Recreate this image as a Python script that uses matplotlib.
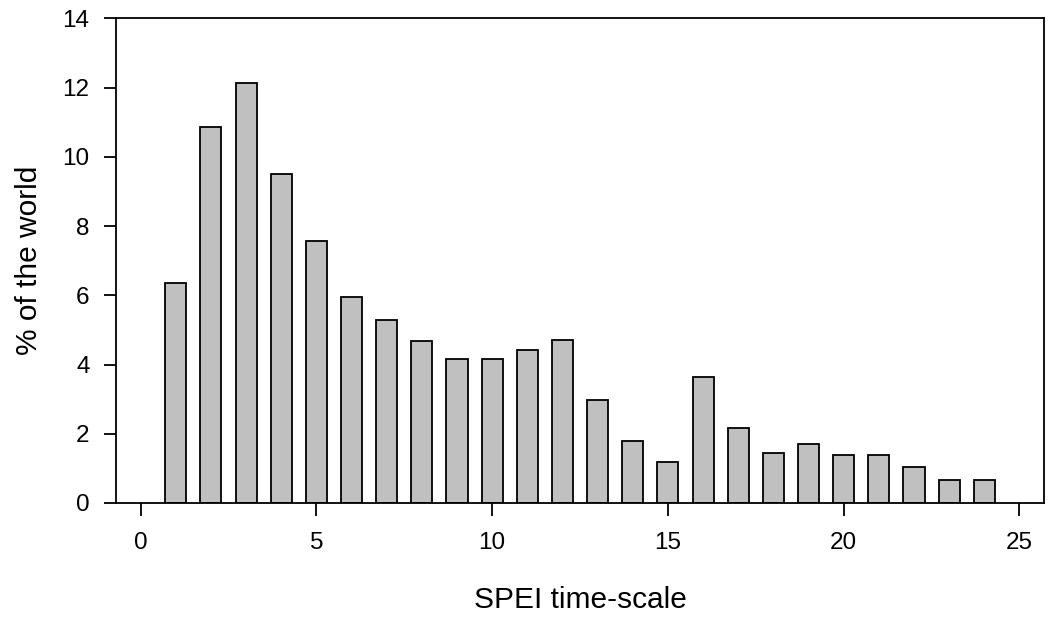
import matplotlib
matplotlib.use('Agg')
import matplotlib.pyplot as plt

plt.rcParams['font.family'] = ['Liberation Sans', 'DejaVu Sans']

# SPEI time-scale (months) and share of the world (%)
timescale = list(range(1, 25))
world_pct = [6.35, 10.86, 12.12, 9.50, 7.58, 5.94, 5.28, 4.68, 4.17, 4.17,
             4.41, 4.70, 2.98, 1.78, 1.18, 3.63, 2.18, 1.44, 1.71, 1.38,
             1.38, 1.03, 0.67, 0.67]

fig = plt.figure(figsize=(10.48, 6.19), dpi=100)
ax = fig.add_axes([0.1107, 0.1874, 0.8855, 0.7829])

ax.bar(timescale, world_pct, width=0.6, color='#c0c0c0',
       edgecolor='black', linewidth=1.3)

ax.set_xlim(-0.7, 25.7)
ax.set_ylim(0, 14)
ax.set_xticks([0, 5, 10, 15, 20, 25])
ax.set_yticks(range(0, 15, 2))

for s in ax.spines.values():
    s.set_linewidth(1.3)
ax.tick_params(direction='out', length=9, width=1.3, labelsize=17.5)
ax.tick_params(axis='x', pad=12)
ax.tick_params(axis='y', pad=10)

ax.set_xlabel('SPEI time-scale', fontsize=21.5, labelpad=23)
ax.set_ylabel('% of the world', fontsize=21.5, labelpad=14)

fig.savefig('out.png', dpi=100)
